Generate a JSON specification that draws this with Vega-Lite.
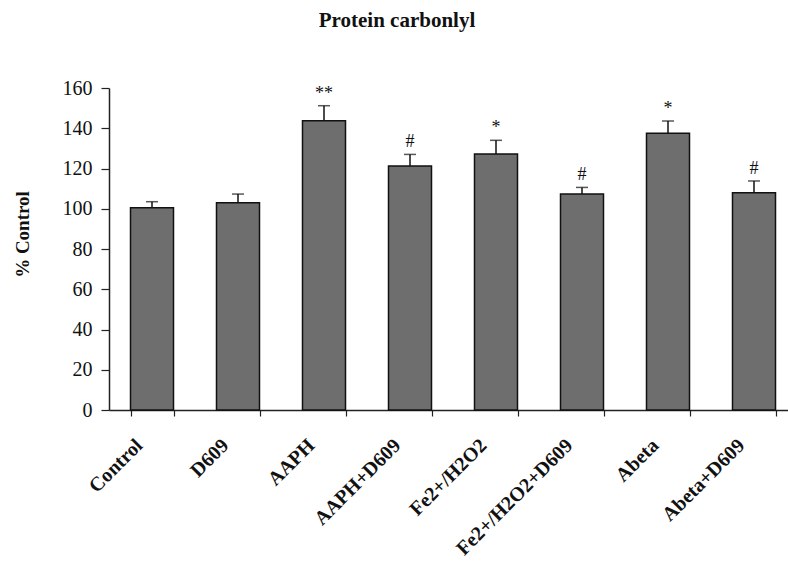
{
  "$schema": "https://vega.github.io/schema/vega-lite/v6.json",
  "width": 688,
  "height": 322,
  "autosize": "none",
  "padding": {"left": 109, "top": 88, "right": 0, "bottom": 154},
  "background": "white",
  "title": {
    "text": "Protein carbonlyl",
    "font": "Liberation Serif",
    "fontSize": 21,
    "fontWeight": "bold",
    "color": "#111",
    "anchor": "middle",
    "frame": "group",
    "dx": -56,
    "offset": 47
  },
  "config": {
    "view": {"stroke": null},
    "axis": {"grid": false, "domainColor": "#222", "tickColor": "#222", "domainWidth": 1.5, "tickWidth": 1.2, "labelColor": "#111", "titleColor": "#111", "labelFont": "Liberation Serif", "titleFont": "Liberation Serif"}
  },
  "data": {
    "values": [
      {"group": "Control", "value": 100.5, "err": 103.5, "sig": ""},
      {"group": "D609", "value": 103, "err": 107.3, "sig": ""},
      {"group": "AAPH", "value": 143.7, "err": 151.2, "sig": "**"},
      {"group": "AAPH+D609", "value": 121.2, "err": 127, "sig": "#"},
      {"group": "Fe2+/H2O2", "value": 127.2, "err": 134, "sig": "*"},
      {"group": "Fe2+/H2O2+D609", "value": 107.3, "err": 110.6, "sig": "#"},
      {"group": "Abeta", "value": 137.5, "err": 143.6, "sig": "*"},
      {"group": "Abeta+D609", "value": 108, "err": 113.8, "sig": "#"}
    ]
  },
  "encoding": {
    "x": {
      "field": "group",
      "type": "nominal",
      "sort": null,
      "scale": {"paddingInner": 0.5, "paddingOuter": 0.25},
      "axis": {
        "title": null,
        "labelAngle": -45,
        "labelAlign": "right",
        "labelBaseline": "middle",
        "labelFontSize": 20,
        "labelFontWeight": "bold",
        "labelPadding": 26,
        "labelOffset": -13,
        "tickBand": "extent",
        "tickSize": 6
      }
    }
  },
  "layer": [
    {
      "mark": {"type": "rule", "stroke": "#111", "strokeWidth": 1.5},
      "encoding": {
        "y": {"field": "value", "type": "quantitative"},
        "y2": {"field": "err"}
      }
    },
    {
      "mark": {"type": "tick", "orient": "horizontal", "size": 12, "thickness": 1.5, "color": "#111"},
      "encoding": {
        "y": {"field": "err", "type": "quantitative"}
      }
    },
    {
      "mark": {"type": "bar", "fill": "#6e6e6e", "stroke": "#111", "strokeWidth": 1.5},
      "encoding": {
        "y": {
          "field": "value",
          "type": "quantitative",
          "scale": {"domain": [0, 160], "nice": false},
          "axis": {
            "title": "% Control",
            "titleFontSize": 19,
            "titleFontWeight": "bold",
            "titlePadding": 30,
            "titleY": 146,
            "labelFontSize": 20,
            "labelPadding": 9,
            "tickSize": 8,
            "values": [0, 20, 40, 60, 80, 100, 120, 140, 160]
          }
        }
      }
    },
    {
      "mark": {"type": "text", "font": "Liberation Serif", "fontSize": 18, "baseline": "bottom", "dy": -3, "color": "#111"},
      "encoding": {
        "y": {"field": "err", "type": "quantitative"},
        "text": {"field": "sig"}
      }
    }
  ]
}
